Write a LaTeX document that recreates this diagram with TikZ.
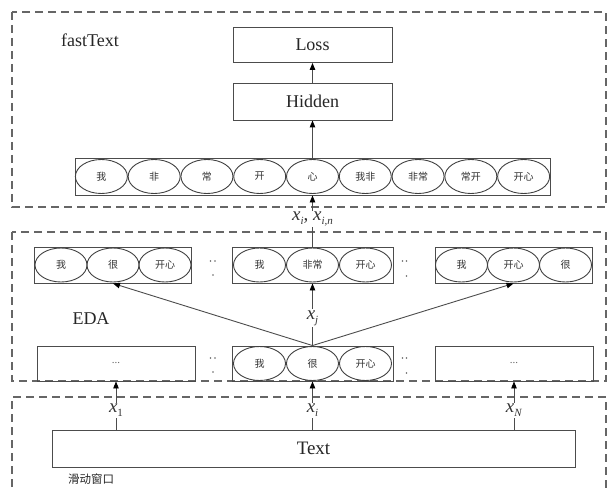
\documentclass[tikz,border=0pt]{standalone}
\usepackage{fontspec}
\setmainfont{Liberation Serif}
\newfontfamily\cjk{Noto Sans CJK SC}
\usetikzlibrary{arrows.meta,shapes.geometric}
\newcommand\xsub[1]{\textit{x}\raisebox{-4.5pt}{\fontsize{11}{11}\selectfont #1}}
\begin{document}
\begin{tikzpicture}[x=1pt,y=-1pt,
  line/.style={draw=black!70, line width=0.9pt},
  dashbox/.style={draw=black!60, line width=1.3pt, dash pattern=on 8pt off 5pt},
  box/.style={line, fill=white, minimum height=36pt, inner sep=0pt, font=\fontsize{18}{18}\selectfont, text=black!85},
  ell/.style={draw=black!75, line width=0.9pt, ellipse, minimum width=52pt, minimum height=34pt, inner sep=0pt, font=\cjk\fontsize{10}{10}\selectfont, text=black!80},
  arr/.style={line, -{Triangle[length=7pt,width=5.5pt,fill=black,color=black]}},
  lab/.style={fill=white, inner sep=1pt, font=\fontsize{19}{19}\selectfont, text=black!80},
  dotc/.style={fill=black!60, draw=none, circle, inner sep=0pt, minimum size=1.8pt}
]
\useasboundingbox (0,0) rectangle (608,492);
\clip (0,0) rectangle (608,492);
% dashed frames
\draw[dashbox] (12,12) rectangle (606,207);
\draw[dashbox] (12,232) rectangle (606,381);
\draw[dashbox] (12,500) -- (12,397) -- (606,397) -- (606,500);

% fastText part
\node[font=\fontsize{18}{18}\selectfont, text=black!85] (ft) at (90,40) {fastText};
\node[box, minimum width=159pt, minimum height=35pt] (loss) at (312.5,45) {Loss};
\node[box, minimum width=159pt, minimum height=37pt] (hid) at (312.5,101.5) {Hidden};
\node[line, minimum width=475pt, minimum height=37pt, inner sep=0pt] (ftrow) at (312.5,176.5) {};
\foreach \t [count=\k] in {我,非,常,开,心,我非,非常,常开,开心}{
  \node[ell] (f\k) at ({75+52.78*(\k-0.5)},176.5) {\t};
}
\draw[arr] (hid.north) -- (loss.south);
\draw[arr] (ftrow.north) -- (hid.south);

% EDA outputs
\node[line, minimum width=157pt, minimum height=36pt, inner sep=0pt] (eL) at (113,265) {};
\node[line, minimum width=161pt, minimum height=36pt, inner sep=0pt] (eM) at (312.5,265) {};
\node[line, minimum width=157pt, minimum height=36pt, inner sep=0pt] (eR) at (513.5,265) {};
\node[ell] (eL1) at (61,265) {我};
\node[ell] (eL2) at (113,265) {很};
\node[ell] (eL3) at (165,265) {开心};
\node[ell] (eM1) at (259.5,265) {我};
\node[ell] (eM2) at (312.5,265) {非常};
\node[ell] (eM3) at (365.5,265) {开心};
\node[ell] (eR1) at (461.5,265) {我};
\node[ell] (eR2) at (513.5,265) {开心};
\node[ell] (eR3) at (565.5,265) {很};

\node[font=\fontsize{18}{18}\selectfont, text=black!85] (eda) at (91,319) {EDA};

% EDA inputs
\node[line, minimum width=158pt, minimum height=35pt, inner sep=0pt, font=\fontsize{11}{11}\selectfont, text=black!60] (bL) at (116,363.5) {...};
\node[line, minimum width=161pt, minimum height=35pt, inner sep=0pt] (bM) at (312.5,363.5) {};
\node[line, minimum width=158pt, minimum height=35pt, inner sep=0pt, font=\fontsize{11}{11}\selectfont, text=black!60] (bR) at (514,363.5) {...};
\node[ell] (bM1) at (259.5,363.5) {我};
\node[ell] (bM2) at (312.5,363.5) {很};
\node[ell] (bM3) at (365.5,363.5) {开心};

% ellipsis dots
\foreach \y in {261,358}{
  \node[dotc] at (210.5,\y) {}; \node[dotc] at (215,\y) {};
  \node[dotc] at (213,\y+14) {};
  \node[dotc] at (402.5,\y) {}; \node[dotc] at (406.5,\y) {};
  \node[dotc] at (406.5,\y+15) {};
}

% EDA arrows
\draw[arr] (bM.north) -- (eL.south);
\draw[arr] (bM.north) -- (eR.south);
\draw[arr] (bM.north) -- node[lab, pos=0.44] {\xsub{\textit{j}}} (eM.south);
\draw[arr] (eM.north) -- node[lab, pos=0.54] {\xsub{\textit{i}}, \xsub{\textit{i,n}}} (ftrow.south);

% Text window
\node[box, minimum width=523pt, minimum height=37pt, font=\fontsize{19}{19}\selectfont] (txt) at (313.5,448.5) {Text};
\node[font=\cjk\fontsize{11.5}{11.5}\selectfont, text=black!85] (win) at (91,479) {滑动窗口};
\draw[arr] (bL.south |- txt.north) -- node[lab, pos=0.4] {\xsub{1}} (bL.south);
\draw[arr] (bM.south |- txt.north) -- node[lab, pos=0.4] {\xsub{\textit{i}}} (bM.south);
\draw[arr] (bR.south |- txt.north) -- node[lab, pos=0.4] {\xsub{\textit{N}}} (bR.south);
\end{tikzpicture}
\end{document}
